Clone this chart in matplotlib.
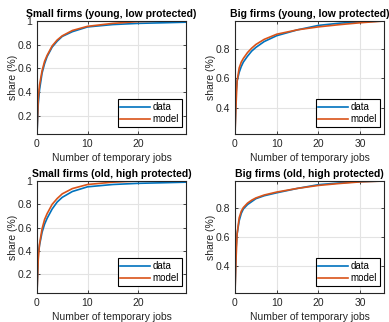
import numpy as np
import matplotlib
matplotlib.use("Agg")
import matplotlib.pyplot as plt
from matplotlib.ticker import FormatStrFormatter, MultipleLocator

plt.rcParams['font.family'] = ['Liberation Sans', 'DejaVu Sans']

# small firms, x grid (number of temporary jobs)
x_small = [0, 0.25, 0.5, 1, 1.5, 2, 3, 4, 5, 7, 10, 15, 20, 25, 29.5]
# big firms
x_big = [0, 0.25, 0.5, 1, 1.5, 2, 3, 4, 5, 7, 10, 15, 20, 25, 30, 35.7]

# small firms (young, low protected)
sy_data = [0.05, 0.30, 0.42, 0.56, 0.64, 0.70, 0.78, 0.83, 0.87, 0.91, 0.95, 0.97, 0.98, 0.985, 0.99]
sy_model = [0.05, 0.35, 0.46, 0.58, 0.66, 0.71, 0.79, 0.84, 0.875, 0.92, 0.955, 0.98, 0.995, 1.0, 1.0]

# big firms (young, low protected)
by_data = [0.22, 0.50, 0.58, 0.64, 0.68, 0.71, 0.75, 0.785, 0.81, 0.85, 0.89, 0.93, 0.96, 0.975, 0.985, 0.99]
by_model = [0.22, 0.42, 0.58, 0.67, 0.71, 0.735, 0.775, 0.805, 0.83, 0.865, 0.90, 0.93, 0.95, 0.965, 0.978, 0.99]

# small firms (old, high protected)
so_data = [0.04, 0.38, 0.45, 0.56, 0.63, 0.68, 0.76, 0.82, 0.86, 0.91, 0.95, 0.97, 0.98, 0.985, 0.99]
so_model = [0.04, 0.33, 0.46, 0.59, 0.67, 0.72, 0.80, 0.85, 0.89, 0.935, 0.97, 0.99, 1.0, 1.0, 1.0]

# big firms (old, high protected)
bo_data = [0.22, 0.52, 0.62, 0.71, 0.76, 0.79, 0.82, 0.84, 0.86, 0.88, 0.90, 0.93, 0.955, 0.967, 0.976, 0.98]
bo_model = [0.22, 0.45, 0.62, 0.73, 0.775, 0.80, 0.83, 0.85, 0.865, 0.885, 0.905, 0.93, 0.95, 0.963, 0.974, 0.98]

panels = [
    ("Small firms (young, low protected)", x_small, sy_data, sy_model, (0.047, 1.0)),
    ("Big firms (young, low protected)", x_big, by_data, by_model, (0.22, 0.99)),
    ("Small firms (old, high protected)", x_small, so_data, so_model, (0.04, 1.0)),
    ("Big firms (old, high protected)", x_big, bo_data, bo_model, (0.22, 0.98)),
]

W, H = 389, 322
fig = plt.figure(figsize=(W / 100, H / 100), dpi=100)

# axes boxes in pixels: left, top, right, bottom
boxes = [(37, 21, 186, 134), (235, 21, 384, 134),
         (37, 181, 186, 293), (235, 181, 384, 293)]

dark = '#262626'
for (title, x, d, m, ylim), (l, t, r, b) in zip(panels, boxes):
    ax = fig.add_axes([l / W, 1 - b / H, (r - l) / W, (b - t) / H])
    ax.plot(x, d, color='#0072BD', lw=1.2, label='data')
    ax.plot(x, m, color='#D95319', lw=1.2, label='model')
    ax.set_xlim(0, x[-1])
    ax.set_ylim(*ylim)
    ax.xaxis.set_major_locator(MultipleLocator(10))
    ax.yaxis.set_major_locator(MultipleLocator(0.2))
    ax.yaxis.set_major_formatter(FormatStrFormatter('%g'))
    ax.grid(True, color='#e3e3e3', lw=0.8)
    ax.set_axisbelow(True)
    ax.tick_params(direction='in', length=2.5, width=0.6, colors=dark,
                   labelsize=7.5, top=True, right=True, pad=3.5)
    for s in ax.spines.values():
        s.set_color(dark)
        s.set_linewidth(0.8)
    ax.set_title(title, fontsize=7.5, fontweight='bold', color='black', pad=3)
    ax.set_xlabel("Number of temporary jobs", fontsize=7.5, color=dark, labelpad=3)
    ax.set_ylabel("share (%)", fontsize=7.5, color=dark, labelpad=0)
    leg = ax.legend(loc='lower right', bbox_to_anchor=(0.972, 0.062),
                    borderaxespad=0, fontsize=7, handlelength=3.0,
                    handletextpad=0.3, borderpad=0.3, labelspacing=0.2,
                    fancybox=False, framealpha=1)
    leg.get_frame().set_edgecolor('black')
    leg.get_frame().set_linewidth(0.8)

fig.savefig('out.png', dpi=100)
